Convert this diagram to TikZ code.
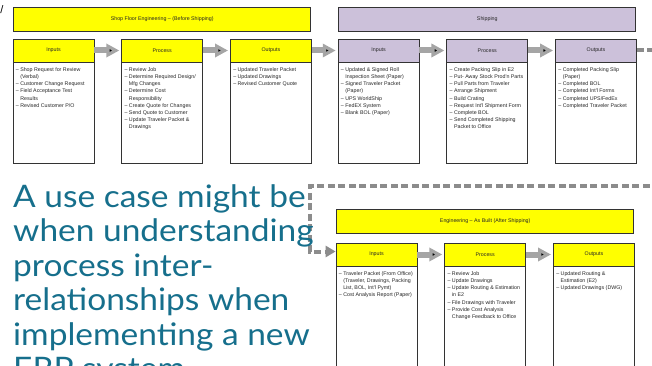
\documentclass[tikz,border=0pt]{standalone}
\usepackage{fontspec}
\newfontfamily\boxfont{Liberation Sans}
\newfontfamily\talkfont[FakeStretch=1.08]{Lato}
\usetikzlibrary{positioning,arrows.meta}
\definecolor{engyellow}{RGB}{255,255,0}
\definecolor{shiplilac}{RGB}{204,193,218}
\definecolor{flowgray}{RGB}{165,165,165}
\definecolor{linkgray}{RGB}{140,140,140}
\definecolor{talkteal}{RGB}{22,111,140}
\newcommand*{\dsh}{–\ }
\newcommand*{\cnt}{\phantom{–\ }}

\begin{document}
\begin{tikzpicture}[x=1pt,y=-1pt,
    hdr/.style={draw=black!80,line width=0.7pt,minimum width=81pt,minimum height=23pt,inner sep=0pt,
        font=\boxfont\fontsize{5.3}{6}\selectfont,text=black!85},
    hdrA/.style={hdr,fill=engyellow},
    hdrB/.style={hdr,fill=shiplilac},
    ttlA/.style={hdrA,minimum width=297pt,minimum height=24pt},
    ttlB/.style={hdrB,minimum width=297pt,minimum height=24pt},
    body/.style={draw=black!80,line width=0.7pt,fill=white,minimum width=81pt,minimum height=101pt,inner sep=0pt},
    btext/.style={inner sep=0pt,align=left,font=\boxfont\fontsize{5.3}{7.2}\selectfont,text=black!85},
    flow/.style={draw=flowgray,line width=6pt,-{Triangle[length=13pt,width=13pt]},shorten >=2pt},
    link/.style={draw=linkgray,line width=4pt,dash pattern=on 7pt off 3.5pt,-{Triangle[length=10pt,width=11pt]}},
    talk/.style={inner sep=0pt,align=left,text=talkteal,font=\talkfont\fontsize{31}{34.5}\selectfont}]
    \useasboundingbox (0,0) rectangle (652,366);
    \clip (0,0) rectangle (652,366);
    \node[inner sep=0pt,font=\boxfont\fontsize{11}{11}\selectfont] (cut) at (2,10) {/};
    % shop floor engineering
    \node[hdrA] (ai) at (53.5,50.5) {Inputs};
    \node[hdrA] (ap) [right=27pt of ai] {Process};
    \node[hdrA] (ao) [right=27pt of ap] {Outputs};
    \node[ttlA] (at) [above=7pt of ap] {Shop Floor Engineering – (Before Shipping)};
    \node[body] (ai-b) [below=0pt of ai] {};
    \node[body] (ap-b) [below=0pt of ap] {};
    \node[body] (ao-b) [below=0pt of ao] {};
    \node[btext] (ai-t) [below right=5pt and 3pt of ai-b.north west]
        {\dsh Shop Request for Review\\\cnt(Verbal)\\\dsh Customer Change Request\\\dsh Field Acceptance Test\\\cnt Results\\\dsh Revised Customer P/O};
    \node[btext] (ap-t) [below right=5pt and 3pt of ap-b.north west]
        {\dsh Review Job\\\dsh Determine Required Design/\\\cnt Mfg Changes\\\dsh Determine Cost\\\cnt Responsibility\\\dsh Create Quote for Changes\\\dsh Send Quote to Customer\\\dsh Update Traveler Packet \&\\\cnt Drawings};
    \node[btext] (ao-t) [below right=5pt and 3pt of ao-b.north west]
        {\dsh Updated Traveler Packet\\\dsh Updated Drawings\\\dsh Revised Customer Quote};
    % shipping
    \node[hdrB] (bi) [right=26pt of ao] {Inputs};
    \node[hdrB] (bp) [right=27pt of bi] {Process};
    \node[hdrB] (bo) [right=27pt of bp] {Outputs};
    \node[ttlB] (bt) [above=7pt of bp] {Shipping};
    \node[body] (bi-b) [below=0pt of bi] {};
    \node[body] (bp-b) [below=0pt of bp] {};
    \node[body] (bo-b) [below=0pt of bo] {};
    \node[btext] (bi-t) [below right=5pt and 3pt of bi-b.north west]
        {\dsh Updated \& Signed Roll\\\cnt Inspection Sheet (Paper)\\\dsh Signed Traveler Packet\\\cnt(Paper)\\\dsh UPS WorldShip\\\dsh FedEX System\\\dsh Blank BOL (Paper)};
    \node[btext] (bp-t) [below right=5pt and 3pt of bp-b.north west]
        {\dsh Create Packing Slip in E2\\\dsh Put- Away Stock Prod'n Parts\\\dsh Pull Parts from Traveler\\\dsh Arrange Shipment\\\dsh Build Crating\\\dsh Request Int'l Shipment Form\\\dsh Complete BOL\\\dsh Send Completed Shipping\\\cnt Packet to Office};
    \node[btext] (bo-t) [below right=5pt and 3pt of bo-b.north west]
        {\dsh Completed Packing Slip\\\cnt(Paper)\\\dsh Completed BOL\\\dsh Completed Int'l Forms\\\dsh Completed UPS/FedEx\\\dsh Completed Traveler Packet};
    % engineering as built
    \node[hdrA] (ci) at (376.5,254.5) {Inputs};
    \node[hdrA] (cp) [right=27pt of ci] {Process};
    \node[hdrA] (co) [right=27pt of cp] {Outputs};
    \node[ttlA] (ct) [above=9pt of cp] {Engineering – As Built (After Shipping)};
    \node[body] (ci-b) [below=0pt of ci] {};
    \node[body] (cp-b) [below=0pt of cp] {};
    \node[body] (co-b) [below=0pt of co] {};
    \node[btext] (ci-t) [below right=5pt and 3pt of ci-b.north west]
        {\dsh Traveler Packet (From Office)\\\cnt(Traveler, Drawings, Packing\\\cnt List, BOL, Int'l Pymt)\\\dsh Cost Analysis Report (Paper)};
    \node[btext] (cp-t) [below right=5pt and 3pt of cp-b.north west]
        {\dsh Review Job\\\dsh Update Drawings\\\dsh Update Routing \& Estimation\\\cnt in E2\\\dsh File Drawings with Traveler\\\dsh Provide Cost Analysis\\\cnt Change Feedback to Office};
    \node[btext] (co-t) [below right=5pt and 3pt of co-b.north west]
        {\dsh Updated Routing \&\\\cnt Estimation (E2)\\\dsh Updated Drawings (DWG)};
    \path[flow]
    (ai) edge (ap)
    (ap) edge (ao)
    (ao) edge (bi)
    (bi) edge (bp)
    (bp) edge (bo)
    (ci) edge (cp)
    (cp) edge (co);
    \coordinate (offr) at (670,186);
    \coordinate (bend) at (310,186);
    \draw[link] (bo.east) -| (offr) -- (bend) |- ([yshift=3pt]ci.west);
    \node[talk,anchor=base west] (usecase) at (13,379.5)
        {A use case might be\\when understanding\\process inter-\\relationships when\\implementing a new\\ERP system};
\end{tikzpicture}
\end{document}
